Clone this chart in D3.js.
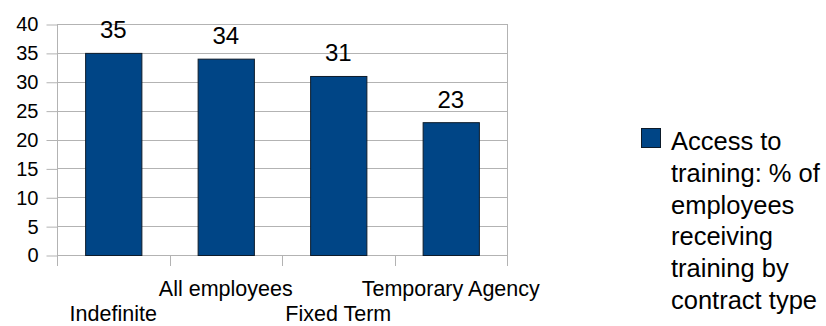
<!DOCTYPE html>
<html>
<head>
<meta charset="utf-8">
<script src="https://cdn.jsdelivr.net/npm/d3@7"></script>
<style>
  html, body { margin: 0; padding: 0; background: #fff; }
  svg { display: block; font-family: "Liberation Sans", Arial, sans-serif; }
</style>
</head>
<body>
<svg id="chart" width="826" height="326"></svg>
<script>
// Contract types and share of employees receiving training (%)
const categories = ["Indefinite", "All employees", "Fixed Term", "Temporary Agency"];
const values = [35, 34, 31, 23];
const yTicks = [0, 5, 10, 15, 20, 25, 30, 35, 40];
const seriesName = ["Access to", "training: % of", "employees", "receiving", "training by", "contract type"];

const barColor = "#004586";
const gridColor = "#b3b3b3";

const svg = d3.select("#chart");
const plot = { left: 57, right: 507, top: 24, bottom: 255 };

const x = d3.scaleBand().domain(categories).range([plot.left, plot.right]).paddingInner(0).paddingOuter(0);
const y = d3.scaleLinear().domain([0, 40]).range([plot.bottom, plot.top]);

// horizontal gridlines
svg.append("g").selectAll("line").data(yTicks).join("line")
  .attr("x1", plot.left).attr("x2", plot.right)
  .attr("y1", d => Math.round(y(d)) + 0.5).attr("y2", d => Math.round(y(d)) + 0.5)
  .attr("stroke", gridColor).attr("stroke-width", 1);

// right border of the plot area
svg.append("line")
  .attr("x1", plot.right + 0.5).attr("x2", plot.right + 0.5)
  .attr("y1", plot.top).attr("y2", plot.bottom)
  .attr("stroke", gridColor);

// y axis
const yAxis = d3.axisLeft(y).tickValues(yTicks).tickSize(11).tickPadding(8);
const gy = svg.append("g").attr("transform", `translate(${plot.left + 0.5},0.5)`).call(yAxis);
gy.select(".domain").attr("stroke", gridColor).attr("d", `M0,${plot.top}V${plot.bottom}`);
gy.selectAll(".tick line").attr("stroke", gridColor);
gy.selectAll(".tick text").attr("fill", "#000").style("font-size", "20px")
  .style("font-family", "Liberation Sans, Arial, sans-serif");

// x axis tick marks at band boundaries
const bounds = categories.map(c => x(c)).concat([plot.right]);
svg.append("g").selectAll("line").data(bounds).join("line")
  .attr("x1", d => Math.round(d) + 0.5).attr("x2", d => Math.round(d) + 0.5)
  .attr("y1", plot.bottom).attr("y2", plot.bottom + 11)
  .attr("stroke", gridColor);
svg.append("line")
  .attr("x1", plot.left).attr("x2", plot.right)
  .attr("y1", plot.bottom + 0.5).attr("y2", plot.bottom + 0.5)
  .attr("stroke", gridColor);

// bars
const barW = x.bandwidth() * 0.5;
svg.append("g").selectAll("rect").data(values).join("rect")
  .attr("x", (d, i) => x(categories[i]) + (x.bandwidth() - barW) / 2 + 0.5)
  .attr("y", d => y(d) + 0.5)
  .attr("width", barW)
  .attr("height", d => plot.bottom - y(d))
  .attr("fill", barColor)
  .attr("stroke", "#0d1b2a").attr("stroke-width", 1);

// value labels
svg.append("g").selectAll("text").data(values).join("text")
  .attr("x", (d, i) => x(categories[i]) + x.bandwidth() / 2)
  .attr("y", d => y(d) - 14.5)
  .attr("text-anchor", "middle")
  .style("font-size", "24px")
  .text(d => d);

// category labels, staggered on two rows
svg.append("g").selectAll("text").data(categories).join("text")
  .attr("x", d => x(d) + x.bandwidth() / 2)
  .attr("y", (d, i) => i % 2 === 0 ? 321 : 296)
  .attr("text-anchor", "middle")
  .style("font-size", "21.5px")
  .text(d => d);

// legend
svg.append("rect")
  .attr("x", 641.5).attr("y", 128.5).attr("width", 19).attr("height", 19)
  .attr("fill", barColor).attr("stroke", "#0d1b2a");
const lt = svg.append("text").attr("x", 671).attr("y", 150).style("font-size", "25.5px");
lt.selectAll("tspan").data(seriesName).join("tspan")
  .attr("x", 671).attr("dy", (d, i) => i === 0 ? 0 : 31.8)
  .text(d => d);
</script>
</body>
</html>
